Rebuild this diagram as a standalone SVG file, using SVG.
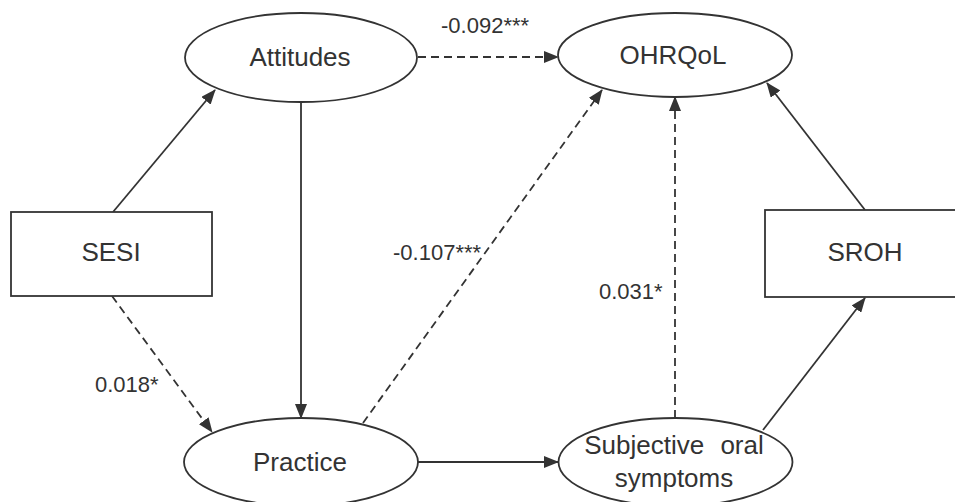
<svg xmlns="http://www.w3.org/2000/svg" width="955" height="502" viewBox="0 0 955 502">
<style>
.node{fill:#fff;stroke:#333;stroke-width:1.8}
.lbl{font-family:"Liberation Sans",Arial,sans-serif;font-size:26px;fill:#333;text-anchor:middle}
.coef{font-family:"Liberation Sans",Arial,sans-serif;font-size:22px;fill:#333}
.edge{stroke:#333;stroke-width:1.8;fill:none;marker-end:url(#arr)}
.dash{stroke-dasharray:8 5}
</style>
<defs>
<marker id="arr" markerUnits="userSpaceOnUse" markerWidth="15" markerHeight="12" refX="14" refY="6" orient="auto">
<path d="M0,0 L15,6 L0,12 z" fill="#333"/>
</marker>
</defs>
<rect width="955" height="502" fill="#fff"/>
<g id="connectors">
<line class="edge" x1="113" y1="212" x2="215" y2="90"/>
<line class="edge" x1="301" y1="102" x2="301" y2="418"/>
<line class="edge dash" x1="112" y1="296" x2="212" y2="432"/>
<line class="edge dash" x1="418" y1="57" x2="558" y2="57"/>
<line class="edge dash" x1="363" y1="423" x2="602" y2="90"/>
<line class="edge dash" x1="675" y1="418" x2="675" y2="97"/>
<line class="edge" x1="418" y1="462" x2="558" y2="462"/>
<line class="edge" x1="763" y1="430" x2="865" y2="298"/>
<line class="edge" x1="865" y1="210" x2="767" y2="83"/>
</g>
<g id="labels">
<text class="coef" x="441" y="33">-0.092***</text>
<text class="coef" x="95" y="392">0.018*</text>
<text class="coef" x="393" y="260">-0.107***</text>
<text class="coef" x="599" y="299">0.031*</text>
</g>
<g id="attitudes">
<ellipse class="node" cx="301" cy="57.5" rx="116" ry="44.5"/>
<text class="lbl" x="300" y="66">Attitudes</text>
</g>
<g id="ohrqol">
<ellipse class="node" cx="675" cy="55" rx="117" ry="42"/>
<text class="lbl" x="673" y="64">OHRQoL</text>
</g>
<g id="sesi">
<rect class="node" x="11" y="212" width="201" height="84"/>
<text class="lbl" x="111" y="261">SESI</text>
</g>
<g id="sroh">
<rect class="node" x="765" y="210" width="200" height="87"/>
<text class="lbl" x="865" y="261">SROH</text>
</g>
<g id="practice">
<ellipse class="node" cx="301" cy="462" rx="117" ry="44"/>
<text class="lbl" x="300" y="471">Practice</text>
</g>
<g id="subjective">
<ellipse class="node" cx="675.5" cy="462" rx="117" ry="44"/>
<text class="lbl" x="674" y="454" word-spacing="9">Subjective oral</text>
<text class="lbl" x="674" y="487">symptoms</text>
</g>
</svg>
